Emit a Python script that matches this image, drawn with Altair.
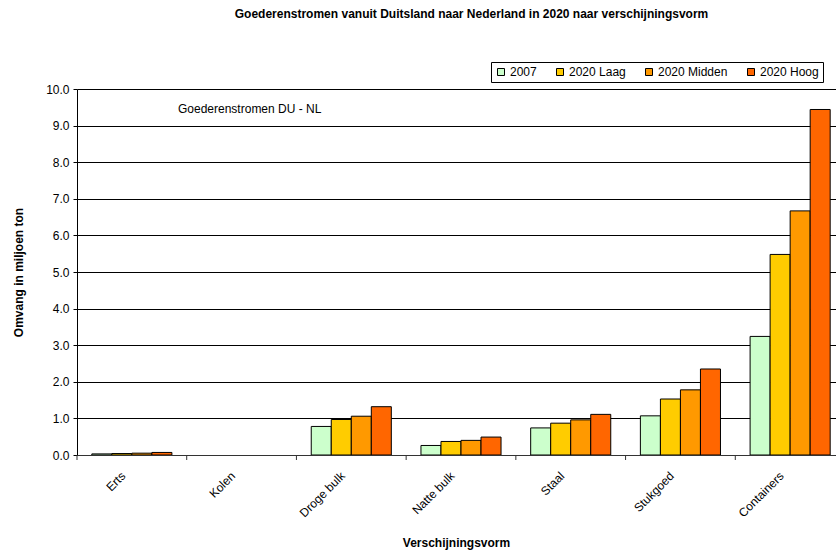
import altair as alt
import pandas as pd

# Goods flows Germany -> Netherlands, million tonnes, by cargo type
categories = ["Erts", "Kolen", "Droge bulk", "Natte bulk", "Staal", "Stukgoed", "Containers"]
series = ["2007", "2020 Laag", "2020 Midden", "2020 Hoog"]
colors = ["#CCFFCC", "#FFCC00", "#FF9900", "#FF6600"]

v2007 = [0.03, 0.0, 0.78, 0.26, 0.74, 1.07, 3.24]
v2020_laag = [0.04, 0.0, 0.97, 0.37, 0.87, 1.53, 5.48]
v2020_midden = [0.05, 0.0, 1.06, 0.40, 0.96, 1.78, 6.67]
v2020_hoog = [0.07, 0.0, 1.32, 0.49, 1.11, 2.35, 9.44]

y_ticks = [0, 1, 2, 3, 4, 5, 6, 7, 8, 9, 10]

rows = []
for name, vals in zip(series, [v2007, v2020_laag, v2020_midden, v2020_hoog]):
    for cat, v in zip(categories, vals):
        rows.append({"vorm": cat, "scenario": name, "omvang": v})
df = pd.DataFrame(rows)
cat_df = pd.DataFrame({"vorm": categories})
note_df = pd.DataFrame({"label": ["Goederenstromen DU - NL"]})

W, H = 759, 366
FONT = "Liberation Sans"

x_scale = alt.Scale(domain=categories, range=[0, 768], paddingInner=0, paddingOuter=0)

x_axis = alt.Axis(
    title="Verschijningsvorm",
    labelAngle=-45,
    labelAlign="right",
    labelBaseline="top",
    labelPadding=15,
    labelOffset=-12,
    ticks=False,
    labelFontSize=12,
    labelColor="black",
    domainColor="#333333",
    titleFontSize=12,
    titleFontWeight="bold",
    titleX=379,
    titleY=87,
    titleBaseline="middle",
    titleColor="black",
)

bars = alt.Chart(df).transform_filter("datum.omvang > 0").mark_bar(
    stroke="black", strokeWidth=1, clip=True
).encode(
    x=alt.X("vorm:N", scale=x_scale, sort=categories, axis=x_axis),
    xOffset=alt.XOffset(
        "scenario:N",
        sort=series,
        scale=alt.Scale(domain=series, paddingInner=0, paddingOuter=0.74),
    ),
    y=alt.Y(
        "omvang:Q",
        scale=alt.Scale(domain=[0, 10], nice=False),
        axis=alt.Axis(
            title="Omvang in miljoen ton",
            values=y_ticks,
            format=".1f",
            grid=True,
            gridColor="black",
            gridWidth=1,
            tickSize=4,
            tickColor="black",
            domainColor="black",
            labelFontSize=12,
            labelColor="black",
            labelPadding=4,
            titleFontSize=12,
            titleFontWeight="bold",
            titleX=-59,
            titleY=183,
            titleBaseline="middle",
            titleColor="black",
        ),
    ),
    color=alt.Color(
        "scenario:N",
        sort=series,
        scale=alt.Scale(domain=series, range=colors),
        legend=alt.Legend(
            title=None,
            orient="none",
            direction="horizontal",
            legendX=414,
            legendY=-27,
            strokeColor="black",
            fillColor="white",
            padding=4,
            symbolType="square",
            symbolSize=49,
            symbolStrokeColor="black",
            symbolStrokeWidth=1,
            labelFontSize=12,
            labelColor="black",
            labelOffset=3,
            columnPadding=17,
        ),
    ),
)

# category boundary ticks below the x axis
boundary_ticks = alt.Chart(cat_df).mark_rule(color="#333333", strokeWidth=1).encode(
    x=alt.X("vorm:N", scale=x_scale, sort=categories, bandPosition=0, axis=x_axis),
    y=alt.value(H),
    y2=alt.value(H + 5),
)

note = alt.Chart(note_df).mark_text(
    align="left", baseline="alphabetic", fontSize=12, font=FONT, color="black"
).encode(
    x=alt.value(101),
    y=alt.value(24),
    text="label:N",
)

chart = (
    alt.layer(bars, boundary_ticks, note)
    .properties(
        width=W,
        height=H,
        padding={"left": 77, "top": 89, "right": 0, "bottom": 95},
        autosize=alt.AutoSizeParams(type="none"),
        background="white",
        title=alt.TitleParams(
            "Goederenstromen vanuit Duitsland naar Nederland in 2020 naar verschijningsvorm",
            anchor="middle",
            fontSize=12,
            fontWeight="bold",
            font=FONT,
            color="black",
            offset=41,
            dx=15,
        ),
    )
    .configure(font=FONT)
    .configure_view(stroke=None)
    .configure_axis(labelFont=FONT, titleFont=FONT)
    .configure_legend(labelFont=FONT)
)

chart.save("out.html", embed_options={"renderer": "svg", "actions": False})
